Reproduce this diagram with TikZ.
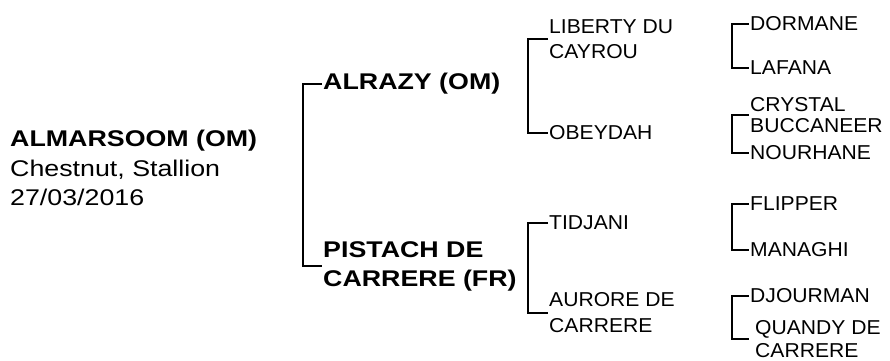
\documentclass[tikz,border=0pt]{standalone}
\usepackage{fontspec}
\setmainfont{Liberation Sans}
\newfontfamily\bigfam{Liberation Sans}[FakeStretch=1.18]
\newfontfamily\smfam{Liberation Sans}[FakeStretch=1.05]
\begin{document}
\begin{tikzpicture}[x=1pt,y=-1pt,
  rootlbl/.style={font=\bigfam\fontsize{22.7}{29.5}\selectfont, anchor=west, inner sep=0pt, inner xsep=1pt, align=left},
  big/.style={font=\bigfam\fontsize{22.7}{29}\selectfont\bfseries, anchor=west, inner sep=0pt, inner xsep=1pt, align=left},
  sm/.style={font=\smfam\fontsize{20.1}{25}\selectfont, anchor=west, inner sep=0pt, inner xsep=1pt, align=left},
  link/.style={line width=2.2pt}]
\useasboundingbox (0,0) rectangle (890,360);

% root
\node[rootlbl] (root) at (9,168) {\textbf{ALMARSOOM (OM)}\\Chestnut, Stallion\\27/03/2016};

% generation 1
\node[big] (alr) at (322,84) {ALRAZY (OM)};
\node[big] (pis) at (322,266) {PISTACH DE\\CARRERE (FR)};

% generation 2
\node[sm] (lib) at (548,39) {LIBERTY DU\\CAYROU};
\node[sm] (obe) at (548,133) {OBEYDAH};
\node[sm] (tid) at (548,223) {TIDJANI};
\node[sm, font=\smfam\fontsize{20.1}{26}\selectfont] (aur) at (548,313) {AURORE DE\\CARRERE};

% generation 3
\node[sm] (dor) at (749,24) {DORMANE};
\node[sm] (laf) at (749,68) {LAFANA};
\node[sm, font=\smfam\fontsize{20.1}{21.5}\selectfont] (cry) at (749,115) {CRYSTAL\\BUCCANEER};
\node[sm] (nou) at (749,153) {NOURHANE};
\node[sm] (fli) at (749,204) {FLIPPER};
\node[sm] (man) at (749,250) {MANAGHI};
\node[sm] (djo) at (749,296) {DJOURMAN};
\node[sm, font=\smfam\fontsize{20.1}{23}\selectfont, inner xsep=6pt] (qua) at (749,339) {QUANDY DE\\CARRERE};

% brackets
\draw[link] (alr.west) -- ++(-19,0) |- (pis.west);
\draw[link] (lib.west) -- ++(-20,0) |- (obe.west);
\draw[link] (tid.west) -- ++(-20,0) |- (aur.west);
\draw[link] (dor.west) -- ++(-17,0) |- (laf.west);
\draw[link] (cry.west) -- ++(-17,0) |- (nou.west);
\draw[link] (fli.west) -- ++(-17,0) |- (man.west);
\draw[link] (djo.west) -- ++(-17,0) |- (qua.west);
\end{tikzpicture}
\end{document}
